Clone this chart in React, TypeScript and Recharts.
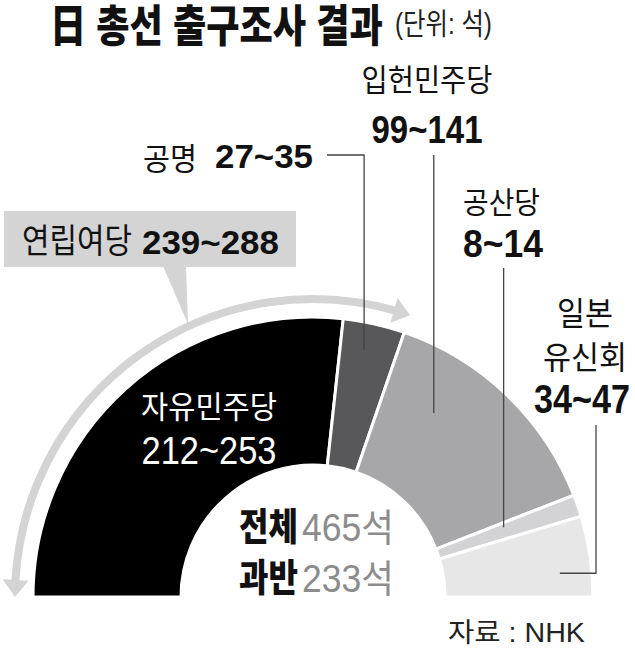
import React from 'react';
import { PieChart, Pie, Cell } from 'recharts';

// ---- data ----
const parties = ['자유민주당', '공명', '입헌민주당', '공산당', '일본 유신회'];
const seatLow = [212, 27, 99, 8, 34];
const seatHigh = [253, 35, 141, 14, 47];
const seatMid = [232.5, 31, 120, 11, 40.5];
const coalitionName = '연립여당';
const coalitionRange = [239, 288];
const totalSeats = 465;
const majoritySeats = 233;

const colors = ['#000000', '#58585b', '#a7a7a9', '#d3d3d5', '#e7e7e7'];
const ARROW = '#d4d4d4';
const LINE = '#444444';
const FONT = "'Liberation Sans', 'Noto Sans CJK KR', sans-serif";

const pieData = parties.map((name, i) => ({ name, value: seatMid[i], low: seatLow[i], high: seatHigh[i] }));
const coalitionValue = seatMid[0] + seatMid[1];
const restValue = seatMid.slice(2).reduce((a, b) => a + b, 0);
const arrowData = [
  { name: coalitionName, value: coalitionValue },
  { name: 'rest', value: restValue },
];

const CX = 313;
const CY = 597;
const RAD = Math.PI / 180;
const polar = (cx: number, cy: number, r: number, a: number): [number, number] => [
  cx + r * Math.cos(a * RAD),
  cy - r * Math.sin(a * RAD),
];

let ctx: CanvasRenderingContext2D | null = null;
function measure(text: string, size: number, weight: number): number {
  if (typeof document === 'undefined') return 0;
  if (!ctx) ctx = document.createElement('canvas').getContext('2d');
  if (!ctx) return 0;
  ctx.font = `${weight} ${size}px ${FONT}`;
  return ctx.measureText(text).width;
}

function T(p: any) {
  const { x, y, size, weight = 400, fill = '#111', anchor = 'start', len, children } = p;
  const str = String(children);
  const natural = measure(str, size, weight);
  const sx = len && natural > 0 ? len / natural : 1;
  return (
    <text
      x={0}
      y={0}
      transform={`translate(${x},${y}) scale(${sx},1)`}
      fontSize={size}
      fontWeight={weight}
      fill={fill}
      textAnchor={anchor}
      fontFamily={FONT}
    >
      {str}
    </text>
  );
}

const rangeText = (i: number) => `${seatLow[i]}~${seatHigh[i]}`;

function renderArrow(props: any) {
  const { cx, cy, innerRadius, outerRadius, startAngle, endAngle, index } = props;
  if (index !== 0) return <g />;
  const rm = (innerRadius + outerRadius) / 2;
  const w = outerRadius - innerRadius;
  const headLen = 17;
  const headHalf = 13;
  const hA = headLen / rm / RAD;
  const a0 = startAngle;
  const a1 = endAngle;
  const s0 = polar(cx, cy, rm, a0 - hA + 0.6);
  const s1 = polar(cx, cy, rm, a1 + hA - 0.6);
  const tipL = polar(cx, cy, rm, a0);
  const bL1 = polar(cx, cy, rm - headHalf, a0 - hA);
  const bL2 = polar(cx, cy, rm + headHalf, a0 - hA);
  const tipR = polar(cx, cy, rm, a1);
  const bR1 = polar(cx, cy, rm - headHalf, a1 + hA);
  const bR2 = polar(cx, cy, rm + headHalf, a1 + hA);
  return (
    <g>
      <path
        d={`M${s0[0]},${s0[1]} A${rm},${rm} 0 0 1 ${s1[0]},${s1[1]}`}
        fill="none"
        stroke={ARROW}
        strokeWidth={w}
      />
      <polygon points={`${tipL[0]},${tipL[1]} ${bL1[0]},${bL1[1]} ${bL2[0]},${bL2[1]}`} fill={ARROW} />
      <polygon points={`${tipR[0]},${tipR[1]} ${bR1[0]},${bR1[1]} ${bR2[0]},${bR2[1]}`} fill={ARROW} />
    </g>
  );
}

function renderLabel(props: any) {
  const { cx, cy, index } = props;
  const name = parties[index];
  if (index === 0) {
    return (
      <g>
        <T x={cx - 104} y={cy - 179} size={31} fill="#fff" anchor="middle" len={136}>{name}</T>
        <T x={cx - 104} y={cy - 133} size={38} fill="#fff" anchor="middle" len={135}>{rangeText(0)}</T>
      </g>
    );
  }
  if (index === 1) {
    const p = polar(cx, cy, 252, 78.3);
    return (
      <g>
        <path d={`M${p[0]},${p[1]} V155 H327`} fill="none" stroke={LINE} strokeWidth={1.3} />
        <T x={143} y={170} size={31} len={54}>{name}</T>
        <T x={215} y={168} size={33} weight={700} len={98}>{rangeText(1)}</T>
      </g>
    );
  }
  if (index === 2) {
    const p = polar(cx, cy, 220, 56.7);
    return (
      <g>
        <path d={`M${p[0]},${p[1]} V155`} fill="none" stroke={LINE} strokeWidth={1.3} />
        <T x={427} y={91} size={31} anchor="middle" len={131}>{name}</T>
        <T x={427} y={143} size={39} weight={700} anchor="middle" len={111}>{rangeText(2)}</T>
      </g>
    );
  }
  if (index === 3) {
    const p = polar(cx, cy, 203, 20.1);
    return (
      <g>
        <path d={`M${p[0]},${p[1]} V268`} fill="none" stroke={LINE} strokeWidth={1.3} />
        <T x={463} y={213} size={30} len={77}>{name}</T>
        <T x={463} y={257} size={38} weight={700} len={80}>{rangeText(3)}</T>
      </g>
    );
  }
  const p = polar(cx, cy, 248, 5.5);
  const [l1, l2] = name.split(' ');
  return (
    <g>
      <path d={`M${p[0]},${p[1]} H596 V425`} fill="none" stroke={LINE} strokeWidth={1.3} />
      <T x={585} y={325} size={32} anchor="middle" len={56}>{l1}</T>
      <T x={585} y={369} size={32} anchor="middle" len={84}>{l2}</T>
      <T x={582} y={413} size={40} weight={700} anchor="middle" len={96}>{rangeText(4)}</T>
    </g>
  );
}

export default function App() {
  return (
    <div style={{ position: 'absolute', left: 0, top: 0, width: 635, height: 648, background: '#fff' }}>
      <PieChart width={635} height={648} margin={{ top: 0, right: 0, bottom: 0, left: 0 }}>
        <Pie
          data={arrowData}
          dataKey="value"
          cx={CX}
          cy={CY}
          startAngle={180}
          endAngle={0}
          innerRadius={294}
          outerRadius={302}
          stroke="none"
          isAnimationActive={false}
          label={renderArrow}
          labelLine={false}
        >
          {arrowData.map((d, i) => (
            <Cell key={i} fill="none" />
          ))}
        </Pie>
        <Pie
          data={pieData}
          dataKey="value"
          cx={CX}
          cy={CY}
          startAngle={180}
          endAngle={0}
          innerRadius={132}
          outerRadius={280}
          stroke="#fff"
          strokeWidth={3}
          isAnimationActive={false}
          label={renderLabel}
          labelLine={false}
        >
          {pieData.map((d, i) => (
            <Cell key={i} fill={colors[i]} />
          ))}
        </Pie>
      </PieChart>
      <svg style={{ position: 'absolute', left: 0, top: 0 }} width={635} height={648}>
        <T x={50} y={42} size={44} weight={900} len={333}>日 총선 출구조사 결과</T>
        <T x={395} y={34} size={30} fill="#222" len={97}>(단위: 석)</T>

        <rect x={4} y={211} width={292} height={56} fill={ARROW} />
        <polygon points="163,266 186,266 188,324" fill={ARROW} />
        <T x={22} y={253} size={34} len={110}>{coalitionName}</T>
        <T x={142} y={254} size={34} weight={700} len={137}>{`${coalitionRange[0]}~${coalitionRange[1]}`}</T>

        <T x={239} y={540} size={38} weight={900} len={59}>전체</T>
        <T x={302} y={541} size={38} fill="#8c8c8c" len={92}>{`${totalSeats}석`}</T>
        <T x={239} y={591} size={38} weight={900} len={59}>과반</T>
        <T x={302} y={592} size={38} fill="#8c8c8c" len={92}>{`${majoritySeats}석`}</T>

        <T x={448} y={642} size={27} fill="#222" len={137}>자료 : NHK</T>
      </svg>
    </div>
  );
}
